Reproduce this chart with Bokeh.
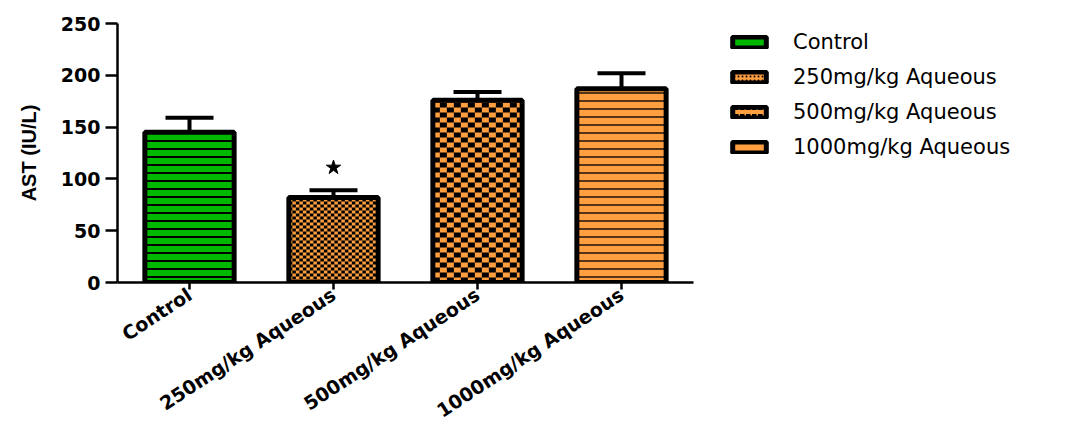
import math

from bokeh.plotting import figure
from bokeh.layouts import row
from bokeh.models import (ColumnDataSource, FactorRange, Whisker, TeeHead,
                          Legend, LegendItem)
from bokeh.embed import file_html
from bokeh.resources import INLINE

# AST activity per treatment group (mean and SEM, IU/L)
groups = ["Control", "250mg/kg Aqueous", "500mg/kg Aqueous", "1000mg/kg Aqueous"]
ast_mean = [145, 82, 176, 187]
ast_sem = [14, 7, 8, 15]
significance = ["", "★", "", ""]

y_ticks = [0, 50, 100, 150, 200, 250]

GREEN = "#00B800"
ORANGE = "#FF9F40"

BAR_W = 0.62
FRAME_W, FRAME_H = 576, 259          # plot area in pixels
Y_MAX = 250

# fill style per group: (fill colour, pattern kind, pattern params)
fills = [
    (GREEN, "lines", dict(scale=8, weight=2, color="black")),
    (ORANGE, "checker", dict(cw=3.5, ch=3.0)),
    (ORANGE, "checker", dict(cw=7.0, ch=5.0)),
    (ORANGE, "lines", dict(scale=8, weight=1.6, color="#2a1a0a")),
]

p = figure(x_range=FactorRange(*groups, range_padding=0), y_range=(0, Y_MAX),
           width=700, height=437, title=None,
           output_backend="svg", toolbar_location=None,
           min_border_left=117, min_border_right=7, min_border_top=23,
           min_border_bottom=155)

px_per_x = FRAME_W / len(groups)
px_per_y = FRAME_H / Y_MAX


def checker_cells(i, top, cw, ch):
    """Black squares of a checkerboard filling bar i up to `top`."""
    x0 = i + 0.5 - BAR_W / 2
    x1 = i + 0.5 + BAR_W / 2
    dx, dy = cw / px_per_x, ch / px_per_y
    cols = math.ceil((x1 - x0) / dx)
    rows = math.ceil(top / dy)
    L, R, B, T = [], [], [], []
    for r in range(rows):
        for c in range(cols):
            if (r + c) % 2 == 0:
                L.append(x0 + c * dx)
                R.append(min(x0 + (c + 1) * dx, x1))
                B.append(r * dy)
                T.append(min((r + 1) * dy, top))
    return dict(left=L, right=R, bottom=B, top=T)


for i, g in enumerate(groups):
    src = ColumnDataSource(dict(x=[g], top=[ast_mean[i]]))
    color, kind, prm = fills[i]
    if kind == "lines":
        p.vbar(x="x", top="top", width=BAR_W, source=src, fill_color=color,
               line_color=None, hatch_pattern="horizontal_line",
               hatch_scale=prm["scale"], hatch_weight=prm["weight"],
               hatch_color=prm["color"])
    else:
        p.vbar(x="x", top="top", width=BAR_W, source=src, fill_color=color,
               line_color=None)
        p.quad(source=ColumnDataSource(checker_cells(i, ast_mean[i], prm["cw"], prm["ch"])),
               left="left", right="right", bottom="bottom", top="top",
               fill_color="black", line_color=None)
    # bar outline on top of the fill pattern
    p.vbar(x="x", top="top", width=BAR_W, source=src, fill_color=None,
           line_color="black", line_width=5)

err_src = ColumnDataSource(dict(
    x=groups,
    upper=[m + s for m, s in zip(ast_mean, ast_sem)],
    lower=[m - s for m, s in zip(ast_mean, ast_sem)],
))
whisk = Whisker(base="x", upper="upper", lower="lower", source=err_src,
                line_width=4, line_color="black",
                upper_head=TeeHead(size=48, line_width=4, line_color="black"),
                lower_head=TeeHead(size=48, line_width=4, line_color="black"))
p.add_layout(whisk)

# significance markers above the error bars
sig_x = [g for g, t in zip(groups, significance) if t]
sig_y = [m + s + 22 for m, s, t in zip(ast_mean, ast_sem, significance) if t]
p.scatter(x=sig_x, y=sig_y, marker="star", size=15, fill_color="black",
          line_color="black")

p.grid.visible = False
p.outline_line_color = None

p.yaxis.ticker = y_ticks
p.yaxis.axis_label = "AST (IU/L)"
p.yaxis.axis_label_text_font = "Liberation Sans"
p.yaxis.axis_label_text_font_style = "bold"
p.yaxis.axis_label_text_font_size = "20px"
p.yaxis.axis_label_text_color = "black"
p.yaxis.axis_label_standoff = 18
p.yaxis.major_tick_out = 12
p.yaxis.major_tick_in = 0
p.yaxis.major_label_standoff = 5

p.xaxis.major_tick_out = 7
p.xaxis.major_tick_in = 0
p.xaxis.major_label_orientation = 0.58
p.xaxis.major_label_standoff = 3

for ax in (p.xaxis, p.yaxis):
    ax.axis_line_width = 2.5
    ax.axis_line_color = "black"
    ax.major_tick_line_width = 2.5
    ax.major_tick_line_color = "black"
    ax.minor_tick_line_color = None
    ax.major_label_text_font = "DejaVu Sans"
    ax.major_label_text_font_style = "bold"
    ax.major_label_text_color = "black"

p.yaxis.major_label_text_font_size = "19px"
p.xaxis.major_label_text_font_size = "19px"

# legend panel beside the chart; its swatch renderers are hidden
lp = figure(width=378, height=437, x_range=(0, 1), y_range=(0, 1), title=None,
            output_backend="svg", toolbar_location=None,
            x_axis_location=None, y_axis_location=None,
            min_border_left=22, min_border_right=0,
            min_border_top=0, min_border_bottom=0)
lp.grid.visible = False
lp.outline_line_color = None

legend_hatch = [
    dict(hatch_pattern="blank"),
    dict(hatch_pattern="dot", hatch_scale=4, hatch_weight=1.5, hatch_color="black"),
    dict(hatch_pattern="horizontal_dash", hatch_scale=6, hatch_weight=2, hatch_color="black"),
    dict(hatch_pattern="blank"),
]
items = []
for i, g in enumerate(groups):
    swatch_src = ColumnDataSource(dict(x=[0.5], top=[0.5]))
    r = lp.vbar(x="x", top="top", bottom=0.5, width=0.5, source=swatch_src,
                fill_color=fills[i][0], line_color="black", line_width=5,
                **legend_hatch[i])
    r.visible = False
    items.append(LegendItem(label=g, renderers=[r]))

legend = Legend(items=items, location="top_left", padding=0, margin=6,
                border_line_color=None, background_fill_alpha=0,
                inactive_fill_alpha=0,
                glyph_width=42, glyph_height=14, label_height=25, spacing=10,
                label_standoff=23, label_text_font="DejaVu Sans",
                label_text_font_size="21px", label_text_color="black")
lp.add_layout(legend, "center")

open("out.html", "w").write(file_html(row(p, lp), INLINE))
